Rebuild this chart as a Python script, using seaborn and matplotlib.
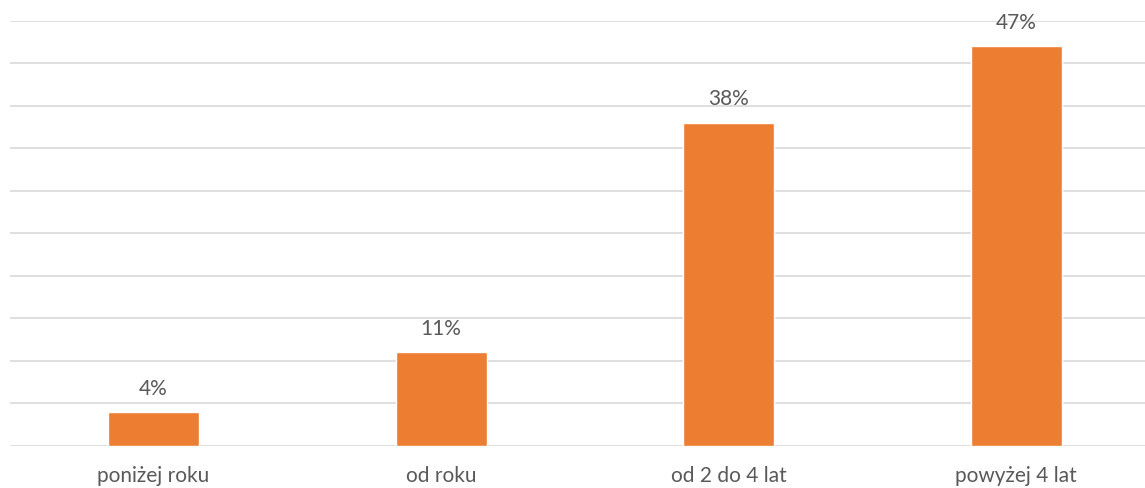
import matplotlib
matplotlib.use("Agg")
import matplotlib.pyplot as plt
import seaborn as sns
import pandas as pd

categories = ["poniżej roku", "od roku", "od 2 do 4 lat", "powyżej 4 lat"]
values = [4, 11, 38, 47]
value_labels = ["4%", "11%", "38%", "47%"]

sns.set_theme(style="white")
plt.rcParams['font.family'] = ['Lato', 'DejaVu Sans']

df = pd.DataFrame({"cat": categories, "val": values})

fig = plt.figure(figsize=(11.45, 4.89), dpi=100)
ax = fig.add_axes([9.75 / 1145, 1 - 447 / 489, (1160 - 9.75) / 1145, (447 - 21.7) / 489])
sns.barplot(data=df, x="cat", y="val", color="#ED7D31", saturation=1, width=0.316, ax=ax, zorder=3)
ax.set_xlim(-0.5, 3.5)
ax.set_ylim(0, 50)
ax.set_yticks(range(0, 51, 5))
ax.yaxis.grid(True, color="#D9D9D9", linewidth=1.2, zorder=0)
ax.set_axisbelow(True)
for s in ax.spines.values():
    s.set_visible(False)
ax.tick_params(axis="y", left=False, labelleft=False)
ax.tick_params(axis="x", bottom=False, labelsize=15, labelcolor="#595959", pad=8)
ax.set_xlabel("")
ax.set_ylabel("")
for p, lab in zip(ax.patches, value_labels):
    ax.annotate(lab, (p.get_x() + p.get_width() / 2, p.get_height()),
                xytext=(0, 17.5), textcoords="offset points", ha="center", va="center",
                fontsize=15, color="#595959")
fig.savefig("out.png", dpi=100)
